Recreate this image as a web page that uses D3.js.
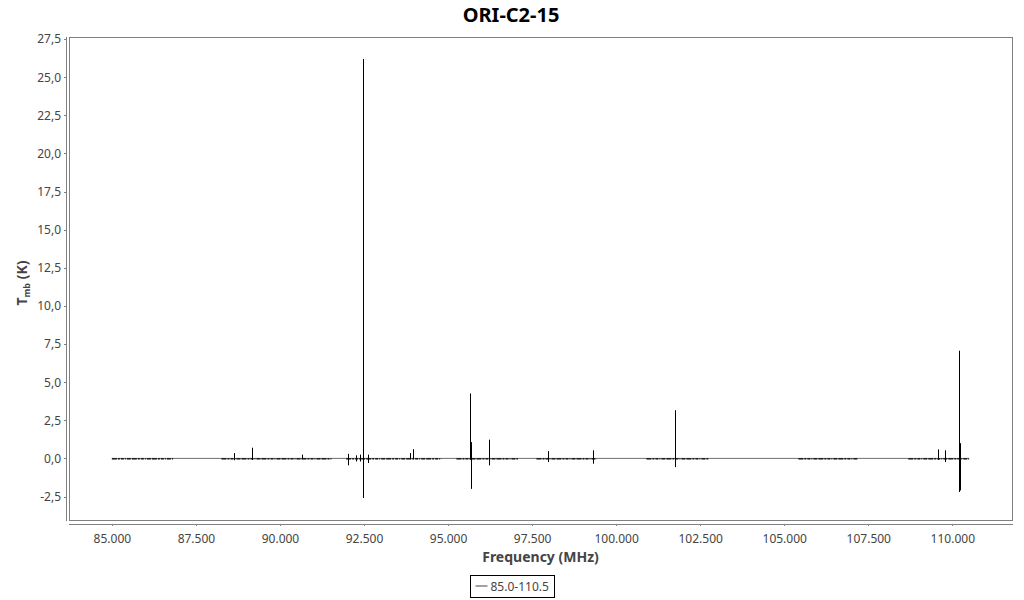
<!DOCTYPE html>
<meta charset="utf-8">
<style>
    body {
        margin: 0;
        background-color: #ffffff;
        font-family: "Noto Sans", sans-serif;
    }

    .axis text {
        font: 12px "Noto Sans", sans-serif;
        fill: #444444;
    }

    .axis path,
    .axis line {
        fill: none;
        stroke: #808080;
        stroke-width: 1px;
        shape-rendering: crispEdges;
    }
</style>

<body>
    <svg width="1024" height="600"></svg>
    <script src="https://d3js.org/d3.v7.min.js"></script>
    <script>
        // observed sub-bands (MHz)
        var segStart = [85.0, 88.26, 91.97, 95.25, 97.63, 100.90, 105.42, 108.69];
        var segEnd = [86.82, 91.53, 94.80, 97.08, 99.42, 102.74, 107.20, 110.5];

        // spectral lines: frequency, peak and trough (K)
        var lineFreq = [88.63, 89.17, 90.65, 92.02, 92.25, 92.37, 92.46, 92.62, 93.88, 93.96,
            95.66, 95.69, 96.22, 97.98, 99.32, 101.76, 109.58, 109.78, 110.20, 110.21, 110.23, 110.24];
        var linePeak = [0.35, 0.70, 0.25, 0.30, 0.20, 0.25, 26.2, 0.25, 0.35, 0.60,
            4.26, 1.07, 1.23, 0.48, 0.53, 3.16, 0.59, 0.53, 7.06, 1.30, 1.00, 0.80];
        var lineTrough = [-0.12, -0.10, -0.05, -0.45, -0.20, -0.20, -2.6, -0.30, -0.05, -0.05,
            -0.10, -2.00, -0.46, -0.24, -0.35, -0.57, -0.10, -0.24, -0.30, -2.20, -2.10, -1.90];

        var xTicks = [85, 87.5, 90, 92.5, 95, 97.5, 100, 102.5, 105, 107.5, 110];
        var yTicks = [-2.5, 0, 2.5, 5, 7.5, 10, 12.5, 15, 17.5, 20, 22.5, 25, 27.5];

        var svg = d3.select("svg"),
            box = { left: 69, right: 1012, top: 37, bottom: 520 };

        var x = d3.scaleLinear().domain([83.725, 111.775]).range([box.left, box.right]),
            y = d3.scaleLinear().domain([-4.04, 27.64]).range([box.bottom, box.top]);

        // title
        svg.append("text")
            .attr("x", 511)
            .attr("y", 22)
            .attr("text-anchor", "middle")
            .style("font", "bold 20px 'Noto Sans', sans-serif")
            .attr("fill", "#000")
            .text("ORI-C2-15");

        // plot frame
        svg.append("rect")
            .attr("x", box.left + 0.5)
            .attr("y", box.top + 0.5)
            .attr("width", box.right - box.left)
            .attr("height", box.bottom - box.top)
            .attr("fill", "none")
            .attr("stroke", "#808080");

        svg.append("g")
            .attr("class", "axis")
            .attr("transform", "translate(66,0)")
            .call(d3.axisLeft(y).tickValues(yTicks).tickSize(2).tickSizeOuter(0)
                .tickFormat(function (d) { return d.toFixed(1).replace(".", ","); }))
            .call(function (g) { g.select(".domain").attr("d", "M0.5," + box.top + "V" + (box.bottom + 1)); });

        svg.append("g")
            .attr("class", "axis")
            .attr("transform", "translate(0,524)")
            .call(d3.axisBottom(x).tickValues(xTicks).tickSize(2).tickSizeOuter(0)
                .tickFormat(function (d) { return d.toFixed(3); }))
            .call(function (g) { g.select(".domain").attr("d", "M" + box.left + ",0.5H" + (box.right + 1)); })
            .selectAll("text").attr("dy", "1.2em");

        // axis titles
        svg.append("text")
            .attr("x", (box.left + box.right) / 2)
            .attr("y", 562)
            .attr("text-anchor", "middle")
            .style("font", "bold 14px 'Noto Sans', sans-serif")
            .attr("fill", "#444")
            .text("Frequency (MHz)");

        var yt = svg.append("text")
            .attr("transform", "translate(27,283) rotate(-90)")
            .attr("text-anchor", "middle")
            .style("font", "bold 14px 'Noto Sans', sans-serif")
            .attr("fill", "#444");
        yt.append("tspan").text("T");
        yt.append("tspan").attr("dy", 3).style("font-size", "9px").text("mb");
        yt.append("tspan").attr("dy", -3).text(" (K)");

        var plot = svg.append("g");

        // continuous baseline joining the sub-bands
        plot.append("line")
            .attr("x1", x(segStart[0]))
            .attr("x2", x(segEnd[segEnd.length - 1]))
            .attr("y1", y(0))
            .attr("y2", y(0))
            .attr("stroke", "#707070")
            .attr("stroke-width", 1);

        // noisy observed sub-bands
        plot.selectAll(".seg")
            .data(segStart)
            .enter().append("line")
            .attr("class", "seg")
            .attr("x1", function (d) { return x(d); })
            .attr("x2", function (d, i) { return x(segEnd[i]); })
            .attr("y1", y(0) + 0.5)
            .attr("y2", y(0) + 0.5)
            .attr("stroke", "#000")
            .attr("stroke-width", 1.4)
            .attr("stroke-dasharray", "5,1,2,1,3,1,1,1,4,1");

        // spectral lines
        plot.selectAll(".spike")
            .data(lineFreq)
            .enter().append("line")
            .attr("class", "spike")
            .attr("x1", function (d) { return Math.round(x(d)) + 0.5; })
            .attr("x2", function (d) { return Math.round(x(d)) + 0.5; })
            .attr("y1", function (d, i) { return y(linePeak[i]); })
            .attr("y2", function (d, i) { return y(lineTrough[i]); })
            .attr("stroke", "#000")
            .attr("stroke-width", 1);

        // legend
        var lg = svg.append("g").attr("transform", "translate(470.5,575.5)");
        lg.append("rect")
            .attr("width", 84)
            .attr("height", 22)
            .attr("fill", "#fff")
            .attr("stroke", "#000");
        lg.append("line")
            .attr("x1", 5).attr("x2", 17)
            .attr("y1", 10.5).attr("y2", 10.5)
            .attr("stroke", "#444");
        lg.append("text")
            .attr("x", 20)
            .attr("y", 15)
            .style("font", "12px 'Noto Sans', sans-serif")
            .attr("fill", "#444")
            .text("85.0-110.5");
    </script>
</body>
